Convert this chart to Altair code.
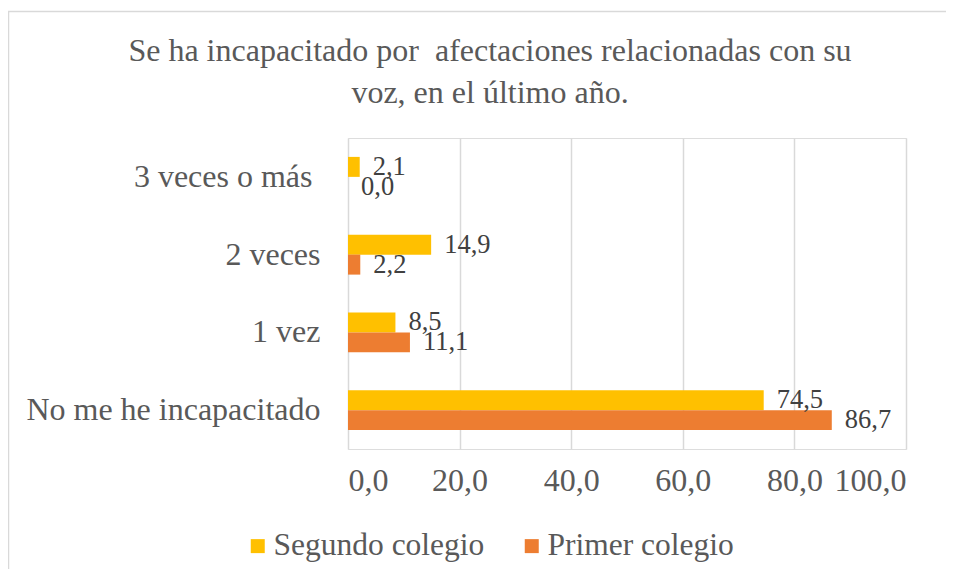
import altair as alt
import pandas as pd

categories = ["3 veces o más", "2 veces", "1 vez", "No me he incapacitado"]
series = ["Segundo colegio", "Primer colegio"]
segundo = [2.1, 14.9, 8.5, 74.5]
primer = [0.0, 2.2, 11.1, 86.7]
x_ticks = [0, 20, 40, 60, 80, 100]
colors = ["#FFC000", "#ED7D31"]
title_lines = "Se ha incapacitado por\u00a0 afectaciones relacionadas con su\nvoz, en el último año."

rows = []
for c, s, p in zip(categories, segundo, primer):
    rows.append({"cat": c, "serie": series[0], "v": s})
    rows.append({"cat": c, "serie": series[1], "v": p})
df = pd.DataFrame(rows)

FONT = "Times New Roman"

y_enc = alt.Y("cat:N", sort=categories, title=None,
              scale=alt.Scale(paddingInner=0.486, paddingOuter=0.243),
              axis=alt.Axis(domain=False, ticks=False, labelFontSize=32,
                            labelColor="#595959", labelFont=FONT,
                            labelPadding={"condition": {"test": "indexof(datum.value, 'veces o') >= 0",
                                                        "value": 36},
                                          "value": 28},
                            labelLimit=0, grid=False))
yoff = alt.YOffset("serie:N", sort=series, scale=alt.Scale(paddingInner=0, paddingOuter=0))

x_enc = alt.X("v:Q", title=None,
              scale=alt.Scale(domain=[0, 100], nice=False),
              axis=alt.Axis(values=x_ticks, domain=False, ticks=False,
                            labelExpr="replace(format(datum.value, '.1f'), '.', ',')",
                            labelFontSize=32, labelColor="#595959", labelFont=FONT,
                            labelPadding=16, labelLimit=0,
                            gridColor="#d9d9d9", gridWidth=1.5))

bars = alt.Chart(df).mark_bar().encode(
    x=x_enc, y=y_enc, yOffset=yoff,
    color=alt.Color("serie:N", sort=series,
                    scale=alt.Scale(domain=series, range=colors),
                    legend=alt.Legend(title=None, orient="none", legendX=-106, legendY=392,
                                      direction="horizontal", symbolType="square",
                                      symbolSize=196, symbolStrokeWidth=0,
                                      labelFontSize=31.5, labelFont=FONT, labelLimit=0,
                                      labelColor="#595959", columnPadding=31,
                                      labelOffset=0)),
)

labels = alt.Chart(df).transform_calculate(
    lab="replace(format(datum.v, '.1f'), '.', ',')"
).mark_text(align="left", baseline="middle", dx=13, fontSize=26.5,
            font=FONT, color="#404040").encode(
    x=alt.X("v:Q"), y=alt.Y("cat:N", sort=categories), yOffset=yoff,
    text="lab:N",
)

border = alt.Chart(pd.DataFrame({"a": [0]})).mark_rect(
    filled=False, stroke="#d9d9d9", strokeWidth=1.5
).encode(x=alt.value(-339.5), x2=alt.value(700), y=alt.value(-126.5), y2=alt.value(600))

title = alt.Chart(pd.DataFrame({"t": [title_lines]})).mark_text(
    align="center", baseline="alphabetic", fontSize=32, font=FONT, color="#595959",
    lineBreak="\n", lineHeight=42
).encode(x=alt.value(-137 + 279), y=alt.value(-77), text="t:N")

chart = alt.layer(border, bars, labels, title).properties(
    width=558, height=311,
    autosize=alt.AutoSizeParams(type="none"),
    padding={"left": 340, "top": 130, "right": 40, "bottom": 120},
).configure_view(stroke=None).configure(font=FONT)

chart.save("out.html", embed_options={"renderer": "svg", "actions": False})
